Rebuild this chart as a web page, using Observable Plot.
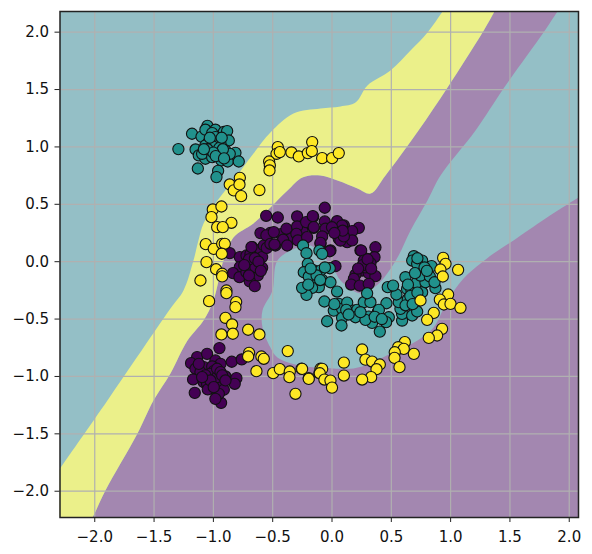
<!DOCTYPE html>
<html><head><meta charset="utf-8">
<script src="https://cdn.jsdelivr.net/npm/d3@7"></script>
<script src="https://cdn.jsdelivr.net/npm/@observablehq/plot@0.6"></script>
<style>html,body{margin:0;padding:0;background:#fff}svg{display:block}</style>
</head><body><div id="chart"></div>
<script>
const xDomain = [-2.293, 2.078];
const yDomain = [-2.229, 2.18];
const xTicks = [-2, -1.5, -1, -0.5, 0, 0.5, 1, 1.5, 2];
const yTicks = [-2, -1.5, -1, -0.5, 0, 0.5, 1, 1.5, 2];

// decision-region boundaries (run slightly past the frame, clipped by it)
const upperEdge = [[-2.38,-1.93],[-2.293,-1.802],[-1.893,-1.209],[-1.362,-.408],[-1.252,-.251],[-1.168,.01],[-1.126,.185],[-1.083,.333],[-.965,.533],[-.831,.708],[-.662,.943],[-.519,1.126],[-.325,1.291],[-.097,1.335],[.072,1.353],[.198,1.387],[.299,1.536],[.493,1.666],[.662,1.84],[.805,1.997],[.932,2.18],[1.015,2.3]];
const midEdge = [[1.436,2.3],[1.37,2.18],[1.269,1.997],[.974,1.518],[.729,1.143],[.451,.751],[.325,.594],[.215,.638],[.046,.708],[-.097,.751],[-.249,.734],[-.375,.62],[-.519,.472],[-.662,.333],[-.831,.211],[-.898,.037],[-.915,.01],[-.999,-.338],[-1.083,-.512],[-1.218,-.687],[-1.362,-.974],[-1.505,-1.21],[-1.64,-1.497],[-1.91,-1.994],[-2.019,-2.229],[-2.09,-2.35]];
const tongue = [[1.978,2.3],[1.901,2.18],[1.783,1.997],[1.446,1.509],[1.21,1.143],[.915,.751],[.805,.533],[.662,.272],[.552,.036],[.434,-.146],[.341,-.234],[.24,-.277],[.072,-.164],[.013,-.059],[-.097,.071],[-.181,.141],[-.291,.124],[-.46,.01],[-.502,-.251],[-.586,-.425],[-.586,-.573],[-.519,-.748],[-.46,-.835],[-.24,-.913],[-.097,-.922],[.013,-.93],[.181,-.93],[.325,-.887],[.493,-.8],[.721,-.687],[.856,-.574],[.974,-.338],[1.109,-.146],[1.252,-.016],[1.362,.071],[1.53,.185],[1.8,.376],[2.078,.56],[2.2,.64],[2.2,2.3]];

const class0 = [[-.949,-.753],[-1.137,-.832],[-1.053,-.803],[-1.188,-.884],[-.983,-.861],[-.94,-.89],[-.845,-.872],[-.761,-.852],[-1.081,-.919],[-1.01,-.913],[-1.151,-.933],[-1.109,-.962],[-.997,-.954],[-.898,-1.0],[-.806,-1.015],[-.82,-1.064],[-1.171,-1.026],[-1.081,-1.05],[-1.053,-1.064],[-.949,-1.041],[-.912,-1.116],[-1.047,-1.113],[-1.157,-1.143],[-.969,-1.18],[-.935,-1.23],[-.954,-1.151],[-1.025,-.977],[-.969,-1.006],
[-1.123,-.89],[-1.067,-.991],[-.969,-.933],[-1.025,-1.035],[-.997,-1.093],[-.94,-.962],[-1.095,-1.006],[-.926,-.991],[-.983,-1.195],[-.898,-1.035],
[-.862,.075],[-.777,.04],[-.673,.127],[-.626,.098],[-.575,.141],[-.589,.04],[-.721,.054],[-.687,.069],[-.777,-.047],[-.834,-.1],[-.78,-.135],[-.721,-.091],[-.679,-.076],[-.626,-.12],[-.589,-.053],[-.693,-.172],[-.651,-.213],[-.645,-.047],[-.477,.141],
[-.7,.02],[-.65,.03],[-.74,-.03],[-.7,-.12],[-.62,0],[-.6,-.08],[-.55,.12],[-.52,.25],[-.43,.24],[-.35,.2],[-.25,.27],
[-.555,.4],[-.457,.385],[-.294,.394],[-.061,.47],[-.159,.391],[-.603,.249],[-.553,.229],[-.491,.258],[-.384,.287],[-.294,.307],[-.218,.345],[-.154,.295],[-.061,.35],[-.055,.287],[.043,.301],[.043,.353],[.1,.316],[.226,.295],[.17,.266],[-.3,.243],[-.519,.156],[-.412,.191],[-.378,.141],[-.288,.185],[-.21,.214],[-.083,.22],[-.097,.156],[-.013,.098],[.057,.2],[.128,.17],[.17,.185],[.24,.098],[.296,.025],[-.679,.127],[-.485,.15],
[-.162,.397],[-.154,.301],[.085,.315],[.071,.184],[-.097,.164],[-.019,.091],[.246,.097],[.366,.126],[.358,.039],[.268,.01],[.324,-.013],[.029,-.039],[.254,-.077],[.198,-.112],[.31,-.1],[.366,-.126],[.184,-.15],[.161,-.199],[.234,-.208],[.31,-.193],
[.28,-.05],[.26,-.03],[.3,.02],[.22,-.06],[.33,-.06],[.1,.22],[.09,.27],[0,.3],[.02,.25]];

const class1 = [[-1.295,.981],[-1.18,1.115],[-1.10,1.09],[-1.05,1.184],[-1.067,1.15],[-.983,1.15],[-1.01,1.12],[-.912,1.13],[-.884,1.138],[-.87,1.056],[-1.15,.978],[-1.123,.926],[-1.067,.897],[-1.033,.955],[-.997,1.027],[-.968,1.042],[-.954,.955],[-.932,.882],[-.879,.873],[-.814,.949],[-.786,.873],[-1.131,.812],[-.96,.792],[-.974,.737],[-1.095,.94],[-1.04,1.042],[-.983,1.085],[-1.067,1.013],[-.94,1.027],[-.898,.969],[-1.01,.911],[-.862,.94],
[-1,1],[-1.05,.98],[-.95,.99],[-.92,.98],[-1,.95],[-1.03,1.08],[-.93,1.08],[-1.08,.98],[-.98,.92],[-.91,.9],
[-.244,.141],[-.215,.074],[-.106,.097],[-.083,.068],[-.204,-.019],[-.238,-.092],[-.148,-.077],[-.154,-.141],[-.196,-.129],[-.083,-.158],[-.097,-.077],[-.019,-.057],[-.013,-.179],[-.111,-.222],[-.168,-.228],[-.215,-.289],[-.252,-.228],[.043,-.26],[-.064,-.347],[.015,-.426],[.057,-.368],[.085,-.411],[.128,-.356],[.184,-.426],[.212,-.42],[.085,-.489],[-.041,-.519],[.08,-.556],[.198,-.484],[.268,-.353],[.324,-.353],[.296,-.275],[.31,-.478],[.386,-.44],[.459,-.362],[.479,-.484],[.456,-.527],[.338,-.533],[.282,-.507],[.403,-.609],[.591,-.513],[.591,-.455],[.577,-.411],[.563,-.353],[.676,-.469],[.718,-.434],[.639,-.327],[.543,-.286],[.47,-.222],[.515,-.208],[.619,-.135],[.633,-.237],[.67,-.251],[.718,-.324],[.76,-.266],[.712,-.184],[.788,-.179],[.746,-.121],[.825,-.129],[.872,-.231],[.864,-.179],[.839,-.039],[.746,-.025],[.69,.048],[.676,.01],[.76,.01],[.718,-.019],[.395,-.42],
[.12,-.42],[.02,-.37],[.14,-.46],[.24,-.44],[.36,-.48],[.42,-.5],[.62,-.38],[.66,-.3],[.72,-.27],[.64,-.2],[.7,-.1],[.78,-.05],[.72,.03],[.8,-.08],[.68,-.37],[-.13,-.12],[-.18,-.06],[-.1,-.16],[-.2,-.2],[-.06,-.05]];

const class2 = [[-.457,.998],[-.468,.94],[-.44,.955],[-.53,.873],[-.524,.839],[-.527,.795],[-.342,.952],[-.28,.917],[-.204,.946],[-.167,1.042],[-.17,.963],[-.083,.902],[.001,.902],[.057,.946],[-.777,.731],[-.862,.673],[-.828,.621],[-.78,.673],[-.766,.571],[-.612,.624],[-1.005,.455],[-.932,.481],[-1.016,.388],[-.848,.339],[-.968,.301],[-.921,.301],[-1.064,.153],[-.997,.112],[-.926,.156],[-.904,.156],[-.929,.069],[-1.058,-.004],[-.977,-.066],
[-.926,-.105],[-.926,-.128],[-1.109,-.164],[-.89,-.251],[-.89,-.274],[-1.036,-.344],[-.808,-.352],[-.814,-.396],[-.898,-.489],[-.842,-.547],[-.932,-.634],[-.836,-.628],[-.707,-.593],[-.612,-.634],[-.699,-.794],[-.707,-.826],[-.595,-.826],[-.575,-.846],[-.637,-.954],[-.373,-.779],[-.496,-.971],[-.44,-.936],[-.356,-.957],[-.359,-1.006],[-.257,-.933],[-.196,-1.015],[-.308,-1.151],[-.097,-.933],[-.106,-.971],
[.937,.033],[.957,-.019],[.914,-.068],[1.063,-.071],[.934,-.129],[.746,-.338],[.979,-.286],[.909,-.33],[.943,-.373],[.999,-.368],[1.083,-.402],[.858,-.446],[.802,-.507],[.928,-.585],[.886,-.643],[.816,-.664],[.614,-.701],[.558,-.745],[.605,-.76],[.69,-.803],[.529,-.789],[.527,-.838],[.569,-.919],[.254,-.765],[.282,-.853],[.338,-.87],[.403,-.896],[.375,-.937],[.1,-.879],[.1,-.992],[.33,-1.006],[.254,-1.027],[-.083,-.934],[-.103,-.972],[-.252,-.934],[-.196,-1.021],[-.064,-1.027],[-.013,-1.036],[0,-1.097]];

const tealBg = "#94bfc6", yellowBg = "#ebf08a", purpleBg = "#a387b0", gridColor = "#b0b0b0";

const yellowPoly = upperEdge.concat(midEdge, [[-2.38, -2.35]]);
const purplePoly = [[2.2, 2.3], [2.2, -2.35]].concat(midEdge.slice().reverse());
const region = (pts, fill) => Plot.line(pts, {x: d => d[0], y: d => d[1], fill, stroke: "none", curve: "catmull-rom", clip: true});
const points = (pts, fill) => Plot.dot(pts, {x: d => d[0], y: d => d[1], r: 5.6, fill, fillOpacity: 1, stroke: "#111", strokeWidth: 1.1});

const chart = Plot.plot({
  width: 592, height: 554,
  marginLeft: 59.5, marginRight: 14, marginTop: 11, marginBottom: 37,
  style: {background: "#fff", fontFamily: "'DejaVu Sans', sans-serif", fontSize: "15px", color: "#111"},
  x: {domain: xDomain, label: null},
  y: {domain: yDomain, label: null},
  marks: [
    Plot.frame({fill: tealBg, stroke: "none"}),
    region(purplePoly, purpleBg),
    region(tongue, tealBg),
    region(yellowPoly, yellowBg),
    Plot.gridX(xTicks, {stroke: gridColor, strokeOpacity: 1, strokeWidth: 1.2}),
    Plot.gridY(yTicks, {stroke: gridColor, strokeOpacity: 1, strokeWidth: 1.2}),
    points(class0, "#440154"),
    points(class1, "#21918c"),
    points(class2, "#fde725"),
    Plot.frame({stroke: "#222", strokeWidth: 1.5}),
    Plot.axisX(xTicks, {tickSize: 5, tickPadding: 9, tickFormat: d3.format(".1f"), stroke: "#222", label: null, fontSize: 15}),
    Plot.axisY(yTicks, {tickSize: 5, tickPadding: 6, tickFormat: d3.format(".1f"), stroke: "#222", label: null, fontSize: 15})
  ]
});
document.getElementById("chart").appendChild(chart);
</script></body></html>
